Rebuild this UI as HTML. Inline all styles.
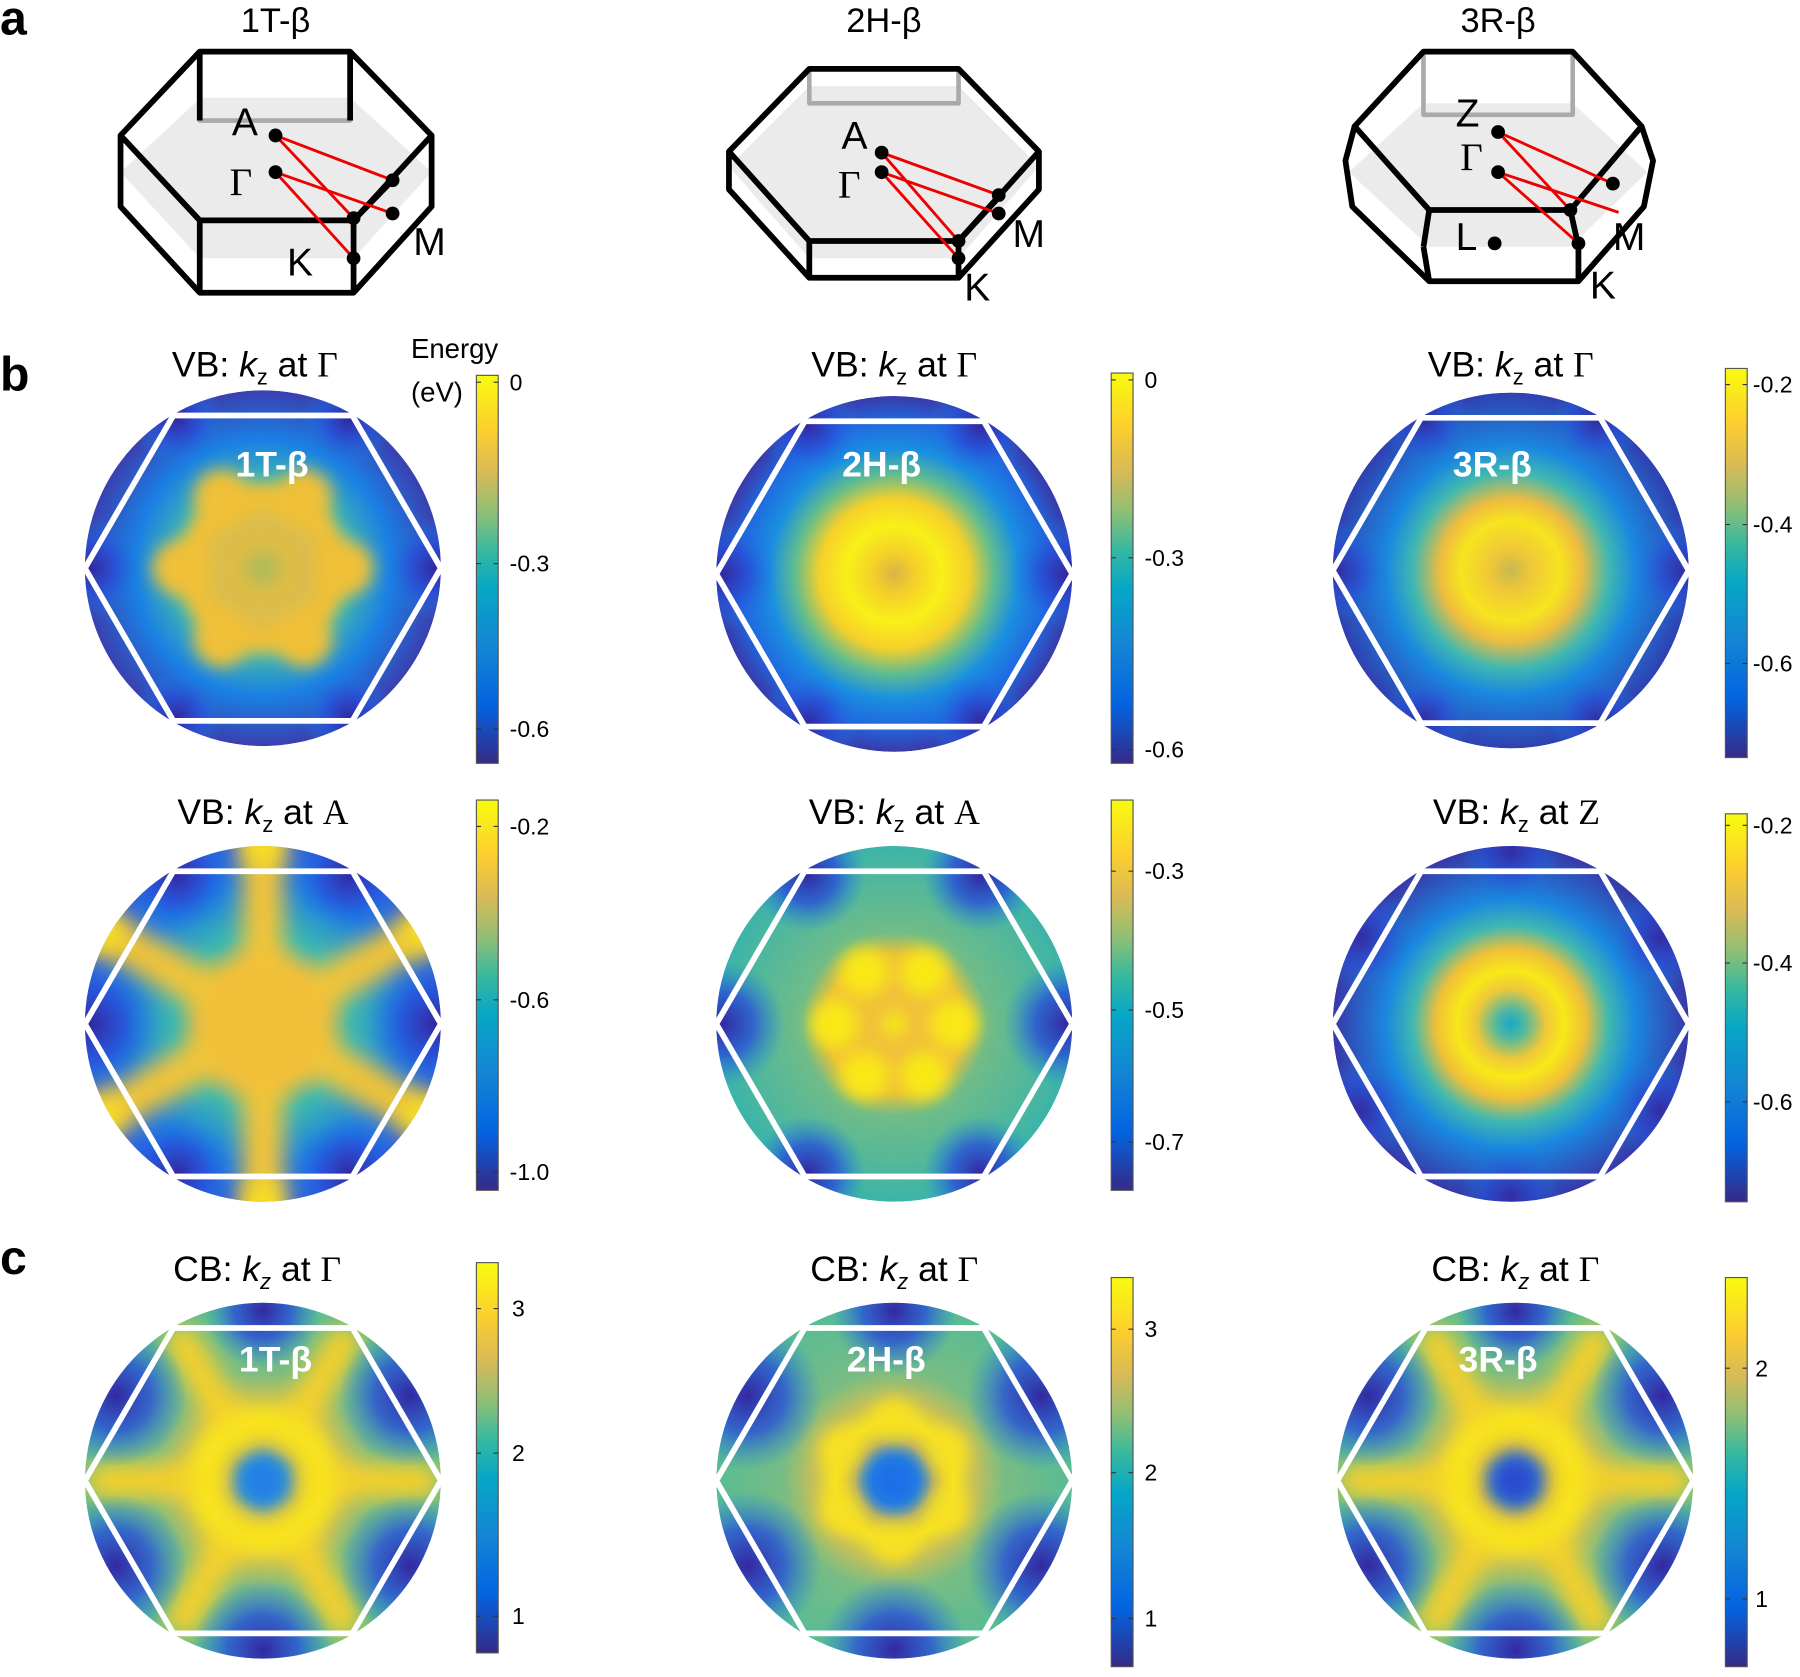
<!DOCTYPE html>
<html><head><meta charset="utf-8">
<style>html,body{margin:0;padding:0;background:#fff;}svg{display:block}</style></head><body>
<svg width="1800" height="1677" viewBox="0 0 1568 1461" preserveAspectRatio="none" xmlns="http://www.w3.org/2000/svg" font-family="Liberation Sans, sans-serif">
<defs>
<filter id="b1" x="-50%" y="-50%" width="200%" height="200%"><feGaussianBlur stdDeviation="10"/></filter>
<filter id="b3" x="-50%" y="-50%" width="200%" height="200%"><feGaussianBlur stdDeviation="7"/></filter>
<clipPath id="cc"><circle cx="0" cy="0" r="155"/></clipPath>
<linearGradient id="par" x1="0" y1="1" x2="0" y2="0">
<stop offset="0" stop-color="#352a87"/><stop offset="0.15" stop-color="#0363e1"/><stop offset="0.3" stop-color="#1485d4"/><stop offset="0.45" stop-color="#06a7c6"/><stop offset="0.55" stop-color="#38b99e"/><stop offset="0.65" stop-color="#92bf73"/><stop offset="0.75" stop-color="#d9ba56"/><stop offset="0.86" stop-color="#fcce2e"/><stop offset="1" stop-color="#f9fb0e"/></linearGradient>
<radialGradient id="gA" cx="0" cy="0" r="155" gradientUnits="userSpaceOnUse"><stop offset="0" stop-color="#b0bc58"/><stop offset="0.15" stop-color="#e8bc40"/><stop offset="0.3" stop-color="#d0bc58"/><stop offset="0.48" stop-color="#40b8b0"/><stop offset="0.72" stop-color="#1a80e4"/><stop offset="1" stop-color="#3a40b0"/></radialGradient>
<radialGradient id="gB" cx="0" cy="0" r="155" gradientUnits="userSpaceOnUse"><stop offset="0" stop-color="#d8b448"/><stop offset="0.12" stop-color="#f5d028"/><stop offset="0.27" stop-color="#f8f018"/><stop offset="0.42" stop-color="#f6d02a"/><stop offset="0.56" stop-color="#60bc90"/><stop offset="0.7" stop-color="#1a90e0"/><stop offset="0.86" stop-color="#2068e0"/><stop offset="1" stop-color="#3a3aa8"/></radialGradient>
<radialGradient id="gC" cx="0" cy="0" r="155" gradientUnits="userSpaceOnUse"><stop offset="0" stop-color="#c8b850"/><stop offset="0.12" stop-color="#f0c838"/><stop offset="0.28" stop-color="#f7e41e"/><stop offset="0.4" stop-color="#eebc40"/><stop offset="0.55" stop-color="#40b8b0"/><stop offset="0.7" stop-color="#1a88e0"/><stop offset="1" stop-color="#3040b0"/></radialGradient>
<radialGradient id="gF" cx="0" cy="0" r="155" gradientUnits="userSpaceOnUse"><stop offset="0" stop-color="#18a8c8"/><stop offset="0.08" stop-color="#50b8a0"/><stop offset="0.2" stop-color="#f0c838"/><stop offset="0.3" stop-color="#f8e818"/><stop offset="0.42" stop-color="#f0c038"/><stop offset="0.55" stop-color="#40b8b0"/><stop offset="0.7" stop-color="#1a88e0"/><stop offset="1" stop-color="#3838a8"/></radialGradient>
<radialGradient id="gD" cx="0" cy="0" r="155" gradientUnits="userSpaceOnUse"><stop offset="0" stop-color="#f2c038"/><stop offset="0.3" stop-color="#eebc40"/><stop offset="0.5" stop-color="#3cb8b0"/><stop offset="0.8" stop-color="#1c7ae6"/><stop offset="1" stop-color="#2c60e0"/></radialGradient>
<radialGradient id="gE" cx="0" cy="0" r="155" gradientUnits="userSpaceOnUse"><stop offset="0" stop-color="#f0c040"/><stop offset="0.38" stop-color="#f0c038"/><stop offset="0.52" stop-color="#70bc88"/><stop offset="1" stop-color="#3cb4a8"/></radialGradient>
<radialGradient id="dk" cx="0.5" cy="0.5" r="0.5"><stop offset="0" stop-color="#3328a0"/><stop offset="0.5" stop-color="#2850d8" stop-opacity="0.8"/><stop offset="1" stop-color="#1a80e4" stop-opacity="0"/></radialGradient>
<radialGradient id="cbG" cx="0" cy="0" r="155" gradientUnits="userSpaceOnUse"><stop offset="0" stop-color="#1e78e8"/><stop offset="0.12" stop-color="#30a0d0"/><stop offset="0.22" stop-color="#e8c040"/><stop offset="0.33" stop-color="#f8e41e"/><stop offset="0.45" stop-color="#c8c058"/><stop offset="0.62" stop-color="#78bc84"/><stop offset="1" stop-color="#58bc94"/></radialGradient>
<polygon id="hex" points="-155,0 -78,-133 78,-133 155,0 78,133 -78,133" fill="none" stroke="#fff" stroke-width="5"/>
</defs>

<!-- ===== panel a ===== -->
<g stroke-linejoin="round">
<polygon points="105,150 175,85 305,85 376,150 308,225 174,225" fill="#e6e6e6" opacity="0.8"/>
<polyline points="174,45 174,105 305,105 305,45" fill="none" stroke="#aaa" stroke-width="4"/>
<polygon points="105,118 174,45 305,45 376,118 308,192 174,192" fill="none" stroke="#000" stroke-width="5"/>
<polyline points="105,118 105,180 174,255 308,255 376,180 376,118" fill="none" stroke="#000" stroke-width="5"/>
<line x1="174" y1="45" x2="174" y2="105" stroke="#000" stroke-width="5"/>
<line x1="305" y1="45" x2="305" y2="105" stroke="#000" stroke-width="5"/>
<line x1="174" y1="192" x2="174" y2="255" stroke="#000" stroke-width="5"/>
<line x1="308" y1="192" x2="308" y2="255" stroke="#000" stroke-width="5"/>
<line x1="308" y1="192" x2="342" y2="157" stroke="#000" stroke-width="5"/>
<g stroke="#e00" stroke-width="2.5"><line x1="240" y1="118" x2="342" y2="157"/><line x1="240" y1="118" x2="308" y2="190"/><line x1="240" y1="150" x2="342" y2="186"/><line x1="240" y1="150" x2="308" y2="225"/></g>
<g fill="#000"><circle cx="240" cy="118" r="6"/><circle cx="240" cy="150" r="6"/><circle cx="342" cy="157" r="6"/><circle cx="342" cy="186" r="6"/><circle cx="308" cy="190" r="6"/><circle cx="308" cy="225" r="6"/></g>

<polygon points="635,145 705,75 835,75 905,145 835,225 705,225" fill="#e6e6e6" opacity="0.8"/>
<polyline points="705,60 705,90 835,90 835,60" fill="none" stroke="#aaa" stroke-width="4"/>
<polygon points="635,132 705,60 835,60 905,132 835,210 705,210" fill="none" stroke="#000" stroke-width="5"/>
<polyline points="635,132 635,165 705,242 835,242 905,165 905,132" fill="none" stroke="#000" stroke-width="5"/>
<line x1="705" y1="210" x2="705" y2="242" stroke="#000" stroke-width="5"/>
<line x1="835" y1="210" x2="835" y2="242" stroke="#000" stroke-width="5"/>
<line x1="835" y1="210" x2="870" y2="172" stroke="#000" stroke-width="5"/>
<g stroke="#e00" stroke-width="2.5"><line x1="768" y1="133" x2="870" y2="170"/><line x1="768" y1="133" x2="835" y2="210"/><line x1="768" y1="150" x2="870" y2="186"/><line x1="768" y1="150" x2="835" y2="225"/></g>
<g fill="#000"><circle cx="768" cy="133" r="6"/><circle cx="768" cy="150" r="6"/><circle cx="870" cy="170" r="6"/><circle cx="870" cy="186" r="6"/><circle cx="835" cy="210" r="6"/><circle cx="835" cy="225" r="6"/></g>

<polygon points="1175,150 1240,90 1370,90 1435,150 1368,215 1245,215" fill="#e6e6e6" opacity="0.8"/>
<polyline points="1240,45 1240,100 1370,100 1370,45" fill="none" stroke="#aaa" stroke-width="4"/>
<polygon points="1180,110 1240,45 1370,45 1430,110 1368,183 1245,183" fill="none" stroke="#000" stroke-width="5"/>
<polyline points="1180,110 1172,140 1178,180 1245,245 1375,245 1432,180 1440,140 1430,110" fill="none" stroke="#000" stroke-width="5"/>
<line x1="1245" y1="183" x2="1240" y2="215" stroke="#000" stroke-width="5"/>
<line x1="1368" y1="183" x2="1375" y2="215" stroke="#000" stroke-width="5"/>
<line x1="1240" y1="215" x2="1245" y2="245" stroke="#000" stroke-width="5"/>
<line x1="1375" y1="215" x2="1375" y2="245" stroke="#000" stroke-width="5"/>
<g stroke="#e00" stroke-width="2.5"><line x1="1305" y1="115" x2="1405" y2="160"/><line x1="1305" y1="115" x2="1368" y2="183"/><line x1="1305" y1="150" x2="1410" y2="185"/><line x1="1305" y1="150" x2="1375" y2="212"/></g>
<g fill="#000"><circle cx="1305" cy="115" r="6"/><circle cx="1305" cy="150" r="6"/><circle cx="1405" cy="160" r="6"/><circle cx="1368" cy="183" r="6"/><circle cx="1375" cy="212" r="6"/><circle cx="1302" cy="212" r="6"/></g>
</g>
<g font-size="34" fill="#000">
<text x="202" y="118">A</text><text x="200" y="170" font-family="Liberation Serif, serif">Γ</text><text x="250" y="240">K</text><text x="360" y="222">M</text>
<text x="733" y="130">A</text><text x="730" y="172" font-family="Liberation Serif, serif">Γ</text><text x="840" y="262">K</text><text x="882" y="215">M</text>
<text x="1268" y="110">Z</text><text x="1272" y="148" font-family="Liberation Serif, serif">Γ</text><text x="1268" y="218">L</text><text x="1385" y="260">K</text><text x="1405" y="218">M</text>
</g>
<g font-size="42" font-weight="bold"><text x="0" y="30">a</text><text x="0" y="340">b</text><text x="0" y="1110">c</text></g>
<g font-size="30" text-anchor="middle"><text x="240" y="28">1T-β</text><text x="770" y="28">2H-β</text><text x="1305" y="28">3R-β</text></g>

<!-- A: 1T VB Gamma -->
<g transform="translate(229,495)"><g clip-path="url(#cc)">
<circle r="155" fill="url(#gA)"/>
<g filter="url(#b3)" fill="#f0c038"><circle cx="72" cy="0" r="24"/><circle cx="36" cy="62" r="24"/><circle cx="-36" cy="62" r="24"/><circle cx="-72" cy="0" r="24"/><circle cx="-36" cy="-62" r="24"/><circle cx="36" cy="-62" r="24"/></g>
<circle r="60" fill="none" stroke="#f0c038" stroke-width="28" filter="url(#b3)"/>
<circle r="28" fill="#d8bc48" filter="url(#b1)"/>
<circle r="12" fill="#a8bc5c" filter="url(#b3)"/>
<g fill="url(#dk)"><circle cx="150" cy="0" r="45"/><circle cx="-150" cy="0" r="45"/><circle cx="75" cy="130" r="40"/><circle cx="-75" cy="130" r="40"/><circle cx="75" cy="-130" r="40"/><circle cx="-75" cy="-130" r="40"/></g>
</g><use href="#hex"/></g>

<!-- B -->
<g transform="translate(779,500)"><g clip-path="url(#cc)">
<circle r="155" fill="url(#gB)"/>
<g fill="url(#dk)"><circle cx="150" cy="0" r="50"/><circle cx="-150" cy="0" r="50"/><circle cx="75" cy="130" r="45"/><circle cx="-75" cy="130" r="45"/><circle cx="75" cy="-130" r="45"/><circle cx="-75" cy="-130" r="45"/></g>
</g><use href="#hex"/></g>

<!-- C -->
<g transform="translate(1316,497)"><g clip-path="url(#cc)">
<circle r="155" fill="url(#gC)"/>
<g fill="url(#dk)" opacity="0.8"><circle cx="150" cy="0" r="45"/><circle cx="-150" cy="0" r="45"/><circle cx="75" cy="130" r="40"/><circle cx="-75" cy="130" r="40"/><circle cx="75" cy="-130" r="40"/><circle cx="-75" cy="-130" r="40"/></g>
</g><use href="#hex"/></g>

<!-- D -->
<g transform="translate(229,892)"><g clip-path="url(#cc)">
<circle r="155" fill="url(#gD)"/>
<g fill="url(#dk)"><circle cx="150" cy="0" r="60"/><circle cx="-150" cy="0" r="60"/><circle cx="75" cy="130" r="50"/><circle cx="-75" cy="130" r="50"/><circle cx="75" cy="-130" r="50"/><circle cx="-75" cy="-130" r="50"/></g>
<g stroke="#f3c438" stroke-width="36" stroke-linecap="round" filter="url(#b1)"><line x1="0" y1="0" x2="150" y2="87"/><line x1="0" y1="0" x2="0" y2="175"/><line x1="0" y1="0" x2="-150" y2="87"/><line x1="0" y1="0" x2="-150" y2="-87"/><line x1="0" y1="0" x2="0" y2="-175"/><line x1="0" y1="0" x2="150" y2="-87"/></g>
<circle r="55" fill="#f2c038" filter="url(#b1)"/>
<g fill="#f8e020" filter="url(#b1)"><circle cx="140" cy="80" r="18"/><circle cx="0" cy="155" r="18"/><circle cx="-140" cy="80" r="18"/><circle cx="-140" cy="-80" r="18"/><circle cx="0" cy="-155" r="18"/><circle cx="140" cy="-80" r="18"/></g>
</g><use href="#hex"/></g>

<!-- E -->
<g transform="translate(779,892)"><g clip-path="url(#cc)">
<circle r="155" fill="url(#gE)"/>
<g fill="url(#dk)"><circle cx="150" cy="0" r="55"/><circle cx="-150" cy="0" r="55"/><circle cx="75" cy="130" r="50"/><circle cx="-75" cy="130" r="50"/><circle cx="75" cy="-130" r="50"/><circle cx="-75" cy="-130" r="50"/></g>
<g fill="#f9e818" filter="url(#b3)"><circle cx="52" cy="0" r="21"/><circle cx="26" cy="45" r="21"/><circle cx="-26" cy="45" r="21"/><circle cx="-52" cy="0" r="21"/><circle cx="-26" cy="-45" r="21"/><circle cx="26" cy="-45" r="21"/><circle r="11"/></g>
</g><use href="#hex"/></g>

<!-- F -->
<g transform="translate(1316,892)"><g clip-path="url(#cc)">
<circle r="155" fill="url(#gF)"/>
<g fill="url(#dk)" opacity="0.8"><circle cx="130" cy="75" r="45"/><circle cx="0" cy="150" r="45"/><circle cx="-130" cy="75" r="45"/><circle cx="-130" cy="-75" r="45"/><circle cx="0" cy="-150" r="45"/><circle cx="130" cy="-75" r="45"/></g>
</g><use href="#hex"/></g>

<!-- CB -->
<g transform="translate(229,1290)"><g clip-path="url(#cc)">
<circle r="155" fill="url(#cbG)"/>
<g stroke="#f6d02c" stroke-width="32" stroke-linecap="round" filter="url(#b1)"><line x1="40" y1="0" x2="140" y2="0"/><line x1="20" y1="35" x2="70" y2="121"/><line x1="-20" y1="35" x2="-70" y2="121"/><line x1="-40" y1="0" x2="-140" y2="0"/><line x1="-20" y1="-35" x2="-70" y2="-121"/><line x1="20" y1="-35" x2="70" y2="-121"/></g>
<circle r="50" fill="none" stroke="#f8e41e" stroke-width="26" filter="url(#b1)"/>
<circle r="24" fill="#2080e6" filter="url(#b1)"/>
<g fill="url(#dk)"><circle cx="128" cy="74" r="62"/><circle cx="0" cy="148" r="62"/><circle cx="-128" cy="74" r="62"/><circle cx="-128" cy="-74" r="62"/><circle cx="0" cy="-148" r="50"/><circle cx="128" cy="-74" r="62"/></g>
</g><use href="#hex"/></g>

<g transform="translate(779,1290)"><g clip-path="url(#cc)">
<circle r="155" fill="url(#cbG)"/>
<g fill="#f8e020" filter="url(#b3)"><circle cx="45" cy="26" r="20"/><circle cx="0" cy="52" r="20"/><circle cx="-45" cy="26" r="20"/><circle cx="-45" cy="-26" r="20"/><circle cx="0" cy="-52" r="20"/><circle cx="45" cy="-26" r="20"/></g>
<circle r="28" fill="#1e70e8" filter="url(#b1)"/>
<g fill="url(#dk)"><circle cx="128" cy="74" r="65"/><circle cx="0" cy="148" r="65"/><circle cx="-128" cy="74" r="65"/><circle cx="-128" cy="-74" r="65"/><circle cx="0" cy="-148" r="55"/><circle cx="128" cy="-74" r="65"/></g>
</g><use href="#hex"/></g>

<g transform="translate(1320,1290)"><g clip-path="url(#cc)">
<circle r="155" fill="url(#cbG)"/>
<g stroke="#f6d02c" stroke-width="32" stroke-linecap="round" filter="url(#b1)"><line x1="40" y1="0" x2="140" y2="0"/><line x1="20" y1="35" x2="70" y2="121"/><line x1="-20" y1="35" x2="-70" y2="121"/><line x1="-40" y1="0" x2="-140" y2="0"/><line x1="-20" y1="-35" x2="-70" y2="-121"/><line x1="20" y1="-35" x2="70" y2="-121"/></g>
<circle r="50" fill="none" stroke="#f8e41e" stroke-width="26" filter="url(#b1)"/>
<circle r="24" fill="#2a48d0" filter="url(#b1)"/>
<g fill="url(#dk)"><circle cx="128" cy="74" r="62"/><circle cx="0" cy="148" r="62"/><circle cx="-128" cy="74" r="62"/><circle cx="-128" cy="-74" r="62"/><circle cx="0" cy="-148" r="50"/><circle cx="128" cy="-74" r="62"/></g>
</g><use href="#hex"/></g>

<g font-size="31" font-weight="bold" fill="#fff" text-anchor="middle">
<text x="237" y="415">1T-β</text><text x="768" y="415">2H-β</text><text x="1300" y="415">3R-β</text>
<text x="240" y="1195">1T-β</text><text x="772" y="1195">2H-β</text><text x="1305" y="1195">3R-β</text></g>

<g font-size="31" text-anchor="middle">
<text x="222" y="328">VB: <tspan font-style="italic">k</tspan><tspan font-size="19" dy="7">z</tspan><tspan dy="-7"> at </tspan><tspan font-family="Liberation Serif, serif">Γ</tspan></text>
<text x="779" y="328">VB: <tspan font-style="italic">k</tspan><tspan font-size="19" dy="7">z</tspan><tspan dy="-7"> at </tspan><tspan font-family="Liberation Serif, serif">Γ</tspan></text>
<text x="1316" y="328">VB: <tspan font-style="italic">k</tspan><tspan font-size="19" dy="7">z</tspan><tspan dy="-7"> at </tspan><tspan font-family="Liberation Serif, serif">Γ</tspan></text>
<text x="229" y="718">VB: <tspan font-style="italic">k</tspan><tspan font-size="19" dy="7">z</tspan><tspan dy="-7"> at </tspan><tspan font-family="Liberation Serif, serif">A</tspan></text>
<text x="779" y="718">VB: <tspan font-style="italic">k</tspan><tspan font-size="19" dy="7">z</tspan><tspan dy="-7"> at </tspan><tspan font-family="Liberation Serif, serif">A</tspan></text>
<text x="1321" y="718">VB: <tspan font-style="italic">k</tspan><tspan font-size="19" dy="7">z</tspan><tspan dy="-7"> at </tspan><tspan font-family="Liberation Serif, serif">Z</tspan></text>
<text x="224" y="1116">CB: <tspan font-style="italic">k</tspan><tspan font-size="19" dy="7" font-style="italic">z</tspan><tspan dy="-7"> at </tspan><tspan font-family="Liberation Serif, serif">Γ</tspan></text>
<text x="779" y="1116">CB: <tspan font-style="italic">k</tspan><tspan font-size="19" dy="7" font-style="italic">z</tspan><tspan dy="-7"> at </tspan><tspan font-family="Liberation Serif, serif">Γ</tspan></text>
<text x="1320" y="1116">CB: <tspan font-style="italic">k</tspan><tspan font-size="19" dy="7" font-style="italic">z</tspan><tspan dy="-7"> at </tspan><tspan font-family="Liberation Serif, serif">Γ</tspan></text>
</g>
<g font-size="24"><text x="358" y="312">Energy</text><text x="358" y="350">(eV)</text></g>

<g stroke="#555" stroke-width="1" fill="url(#par)">
<rect x="415" y="327" width="19" height="338"/><rect x="415" y="697" width="19" height="340"/><rect x="415" y="1100" width="19" height="340"/>
<rect x="968" y="325" width="19" height="340"/><rect x="968" y="697" width="19" height="340"/><rect x="968" y="1113" width="19" height="339"/>
<rect x="1503" y="321" width="19" height="339"/><rect x="1503" y="709" width="19" height="338"/><rect x="1503" y="1113" width="19" height="339"/>
</g>
<g stroke="#333" stroke-width="1">
<path d="M415 333h4M434 333h-4M415 491h4M434 491h-4M415 635h4M434 635h-4M415 720h4M434 720h-4M415 871h4M434 871h-4M415 1021h4M434 1021h-4M415 1140h4M434 1140h-4M415 1266h4M434 1266h-4M415 1408h4M434 1408h-4"/>
<path d="M968 331h4M987 331h-4M968 486h4M987 486h-4M968 653h4M987 653h-4M968 759h4M987 759h-4M968 880h4M987 880h-4M968 995h4M987 995h-4M968 1158h4M987 1158h-4M968 1283h4M987 1283h-4M968 1410h4M987 1410h-4"/>
<path d="M1503 335h4M1522 335h-4M1503 457h4M1522 457h-4M1503 578h4M1522 578h-4M1503 719h4M1522 719h-4M1503 839h4M1522 839h-4M1503 960h4M1522 960h-4M1503 1192h4M1522 1192h-4M1503 1393h4M1522 1393h-4"/>
</g>
<g font-size="20">
<text x="444" y="340">0</text><text x="444" y="498">-0.3</text><text x="444" y="642">-0.6</text>
<text x="444" y="727">-0.2</text><text x="444" y="878">-0.6</text><text x="444" y="1028">-1.0</text>
<text x="446" y="1147">3</text><text x="446" y="1273">2</text><text x="446" y="1415">1</text>
<text x="997" y="338">0</text><text x="997" y="493">-0.3</text><text x="997" y="660">-0.6</text>
<text x="997" y="766">-0.3</text><text x="997" y="887">-0.5</text><text x="997" y="1002">-0.7</text>
<text x="997" y="1165">3</text><text x="997" y="1290">2</text><text x="997" y="1417">1</text>
<text x="1527" y="342">-0.2</text><text x="1527" y="464">-0.4</text><text x="1527" y="585">-0.6</text>
<text x="1527" y="726">-0.2</text><text x="1527" y="846">-0.4</text><text x="1527" y="967">-0.6</text>
<text x="1529" y="1199">2</text><text x="1529" y="1400">1</text>
</g>
</svg>
</body></html>
